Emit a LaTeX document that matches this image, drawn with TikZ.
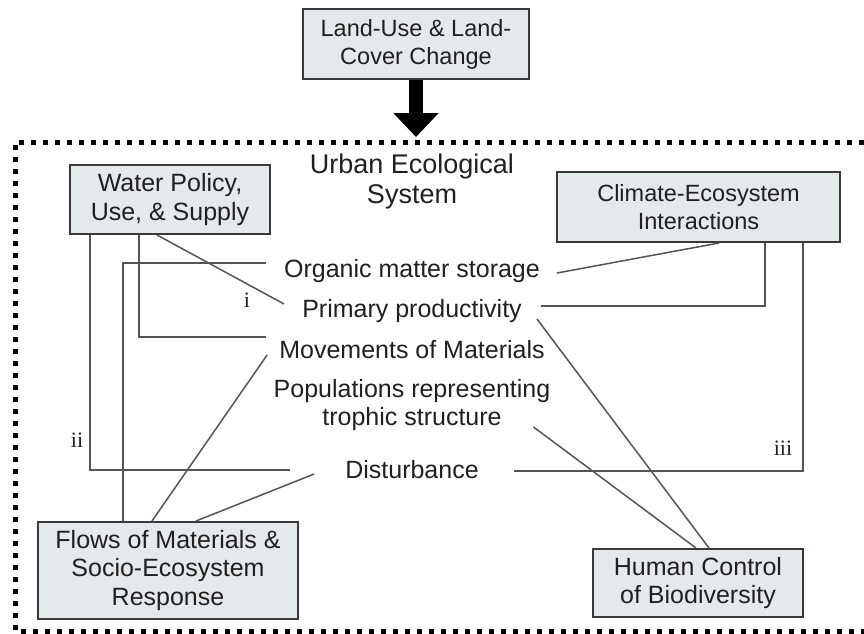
\documentclass[tikz,border=0pt]{standalone}
\usepackage{fontspec}
\setmainfont{Liberation Sans}
\newfontfamily\numfont{Liberation Serif}
\usetikzlibrary{arrows.meta}

\definecolor{boxfill}{HTML}{E4E9EC}
\definecolor{boxline}{HTML}{3A3A3A}
\definecolor{linkgray}{HTML}{555555}
\definecolor{inktext}{HTML}{202020}

\tikzset{
  box/.style={draw=boxline, fill=boxfill, line width=2pt, inner sep=0pt, align=center,
    text=inktext, font=\fontsize{23.5}{28}\selectfont},
  bigbox/.style={box, font=\fontsize{25}{28.5}\selectfont},
  lbl/.style={inner sep=0pt, align=center, text=inktext, font=\fontsize{25}{28}\selectfont},
  num/.style={inner sep=0pt, text=inktext, font=\numfont\fontsize{22}{22}\selectfont},
  link/.style={draw=linkgray, line width=1.5pt},
  frame/.style={line width=5pt, dash pattern=on 5pt off 7pt}
}

\begin{document}
\begin{tikzpicture}[x=1pt, y=-1pt]
  \useasboundingbox (0,0) rectangle (864,633);

  \draw[frame] (864,142) -- (15,142) -- (15,631) -- (864,631);

  \node[box, minimum width=226pt, minimum height=70pt] (land) at (416,44) {Land-Use \& Land-\\Cover Change};
  \coordinate (sysin) at (416,137);
  \draw[line width=14pt, -{Triangle[width=44pt, length=24pt]}] (land.south) -- (sysin);

  \node[lbl, font=\fontsize{27}{30}\selectfont] (ues) at (412,182) {Urban Ecological\\System};

  \node[bigbox, minimum width=200pt, minimum height=69pt] (water) at (170,199.5) {Water Policy,\\Use, \& Supply};
  \node[box, minimum width=283pt, minimum height=70pt] (clim) at (698.5,207) {Climate-Ecosystem\\Interactions};
  \node[bigbox, minimum width=260pt, minimum height=97pt] (flows) at (168,570.5) {Flows of Materials \&\\Socio-Ecosystem\\Response};
  \node[bigbox, minimum width=210pt, minimum height=68pt] (human) at (698,583) {Human Control\\of Biodiversity};

  \node[lbl] (org) at (412,271) {Organic matter storage};
  \node[lbl] (prim) at (412,311) {Primary productivity};
  \node[lbl] (move) at (412,350) {Movements of Materials};
  \node[lbl] (troph) at (412,405) {Populations representing\\trophic structure};
  \node[lbl] (dist) at (412,470) {Disturbance};

  \node[num] (ni) at (247,300) {i};
  \node[num] (nii) at (77,440) {ii};
  \node[num] (niii) at (783,448) {iii};

  \draw[link] (water.south west) ++(21,0) |- ([xshift=-55pt]dist.west);
  \draw[link] (water.south west) ++(70,0) |- ([shift={(-13pt,13pt)}]move.west);
  \draw[link] (water.south west) ++(88,0) -- ([shift={(-18pt,7pt)}]prim.west);
  \draw[link] ([shift={(-18pt,8pt)}]org.west) -| ([xshift=86pt]flows.north west);
  \draw[link] ([xshift=115pt]flows.north west) -- ([shift={(-12pt,-5pt)}]move.west);
  \draw[link] ([xshift=159pt]flows.north west) -- ([shift={(-31pt,-4pt)}]dist.west);

  \draw[link] ([xshift=163pt]clim.south west) -- ([shift={(17pt,-2pt)}]org.east);
  \draw[link] ([xshift=209pt]clim.south west) |- ([shift={(19pt,5pt)}]prim.east);
  \draw[link] ([xshift=247pt]clim.south west) |- ([shift={(35pt,-1pt)}]dist.east);
  \draw[link] ([xshift=117pt]human.north west) -- ([shift={(15pt,-8pt)}]prim.east);
  \draw[link] ([xshift=104pt]human.north west) -- ([shift={(-17pt,-22pt)}]troph.east);
\end{tikzpicture}
\end{document}
